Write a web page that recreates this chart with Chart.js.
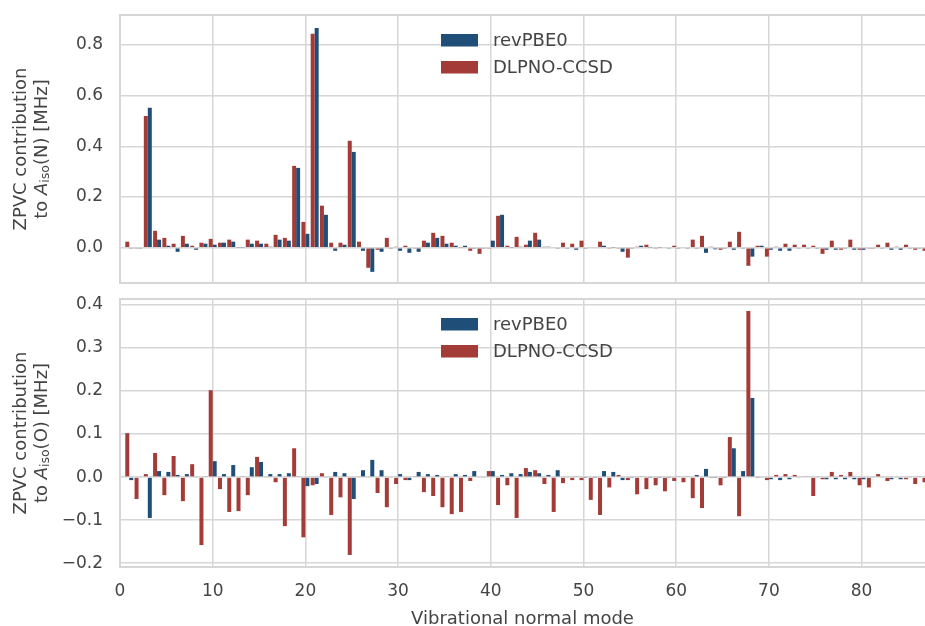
<!DOCTYPE html>
<html>
<head>
<meta charset="utf-8">
<script src="https://cdn.jsdelivr.net/npm/chart.js@4.4.1/dist/chart.umd.min.js"></script>
<style>
  body { margin: 0; background: #fff; }
  canvas { display: block; }
</style>
</head>
<body>
<canvas id="topChart" width="925" height="290"></canvas>
<canvas id="bottomChart" width="925" height="336"></canvas>
<script>
// normal modes 1..87
const modes = [1,2,3,4,5,6,7,8,9,10,11,12,13,14,15,16,17,18,19,20,21,22,23,24,25,26,27,28,29,30,
  31,32,33,34,35,36,37,38,39,40,41,42,43,44,45,46,47,48,49,50,51,52,53,54,55,56,57,58,59,60,
  61,62,63,64,65,66,67,68,69,70,71,72,73,74,75,76,77,78,79,80,81,82,83,84,85,86,87];

// A_iso(N) contributions [MHz]
const revPBE0_N = [-0.002,-0.002,0.552,0.032,0.008,-0.016,0.016,-0.008,0.016,0.012,
  0.020,0.024,0.002,0.016,0.016,0.004,0.032,0.028,0.315,0.055,
  0.867,0.130,-0.012,0.012,0.378,-0.012,-0.095,-0.016,-0.004,-0.012,
  -0.020,-0.016,0.020,0.039,0.016,0.008,0.008,-0.004,-0.004,0.028,
  0.130,0.002,0.004,0.028,0.032,0.004,-0.002,-0.002,-0.008,-0.002,
  0.003,0.008,0.002,-0.016,-0.002,0.008,0.002,0.002,-0.002,-0.002,
  -0.002,-0.002,-0.020,-0.006,-0.004,-0.008,-0.002,-0.035,0.008,-0.008,
  -0.012,-0.012,-0.002,-0.002,-0.002,-0.008,-0.008,-0.002,-0.008,-0.008,
  -0.002,-0.002,-0.008,-0.008,-0.002,-0.002,-0.002];
const dlpno_N = [0.024,-0.002,0.520,0.067,0.039,0.016,0.047,0.008,0.020,0.035,
  0.020,0.032,0.002,0.032,0.028,0.016,0.051,0.039,0.323,0.102,
  0.844,0.166,0.020,0.020,0.422,0.024,-0.079,-0.008,0.039,0.004,
  0.008,-0.002,0.028,0.059,0.047,0.020,0.002,-0.012,-0.024,-0.004,
  0.126,0.008,0.043,0.012,0.059,0.004,0.003,0.020,0.016,0.028,
  0.003,0.024,-0.002,-0.004,-0.039,0.004,0.012,-0.002,0.003,0.008,
  0.003,0.032,0.047,0.004,-0.008,0.024,0.063,-0.071,0.008,-0.035,
  0.004,0.016,0.012,0.012,0.008,-0.024,0.028,-0.008,0.032,-0.008,
  -0.002,0.012,0.020,0.004,0.012,-0.008,-0.012];

// A_iso(O) contributions [MHz]
const revPBE0_O = [-0.007,-0.002,-0.095,0.014,0.012,0.005,0.007,-0.002,0.002,0.037,
  0.007,0.028,0.002,0.023,0.035,0.007,0.007,0.009,0.002,-0.021,
  -0.016,-0.002,0.012,0.009,-0.051,0.016,0.040,0.016,-0.002,0.007,
  -0.007,0.012,0.007,0.005,0.002,0.007,0.005,0.014,-0.002,0.014,
  0.005,0.009,0.007,0.012,0.009,0.005,0.016,-0.002,0.002,-0.001,
  -0.001,0.014,0.012,-0.007,-0.001,0.002,-0.001,-0.001,-0.001,0.002,
  0.002,0.005,0.019,-0.001,-0.001,0.067,0.014,0.184,-0.002,-0.005,
  -0.007,-0.005,-0.002,0.002,-0.002,-0.005,-0.005,-0.005,-0.005,-0.005,
  -0.002,-0.002,-0.005,-0.005,-0.002,0.002,-0.003];
const dlpno_O = [0.102,-0.051,0.007,0.056,-0.042,0.049,-0.056,0.030,-0.158,0.202,
  -0.028,-0.081,-0.079,-0.042,0.047,-0.002,-0.012,-0.114,0.067,-0.140,
  -0.019,0.009,-0.088,-0.047,-0.181,-0.002,-0.002,-0.037,-0.070,-0.016,
  -0.007,0.002,-0.035,-0.044,-0.070,-0.086,-0.081,-0.009,-0.002,0.014,
  -0.065,-0.019,-0.095,0.021,0.016,-0.016,-0.081,-0.014,-0.007,-0.007,
  -0.053,-0.088,-0.024,0.005,-0.007,-0.040,-0.028,-0.019,-0.033,-0.009,
  -0.012,-0.049,-0.072,-0.001,-0.019,0.093,-0.091,0.386,-0.001,-0.007,
  0.005,0.007,0.005,0.002,-0.044,-0.005,0.012,0.005,0.012,-0.019,
  -0.024,0.007,-0.009,-0.002,-0.005,-0.016,-0.012];

const xTicks = [0,10,20,30,40,50,60,70,80];

const BLUE = '#1f4e79';
const RED = '#a33b37';
const GRID = '#d6d6d6';
const TEXT = '#444444';
const FONT = "'DejaVu Sans', sans-serif";

// frame round the plot area (right side is cut off in the figure)
const framePlugin = {
  id: 'frame',
  beforeDatasetsDraw(chart) {
    const a = chart.chartArea, ctx = chart.ctx;
    ctx.save();
    ctx.strokeStyle = GRID;
    ctx.lineWidth = 2;
    ctx.beginPath();
    ctx.moveTo(chart.width + 5, a.top);
    ctx.lineTo(a.left, a.top);
    ctx.lineTo(a.left, a.bottom);
    ctx.lineTo(chart.width + 5, a.bottom);
    ctx.stroke();
    ctx.restore();
  }
};

// legend inside the axes, revPBE0 listed first
const innerLegend = {
  id: 'innerLegend',
  afterDraw(chart) {
    const a = chart.chartArea, ctx = chart.ctx;
    const sets = chart.data.datasets.slice().reverse();
    ctx.save();
    ctx.font = '18px ' + FONT;
    ctx.textBaseline = 'middle';
    ctx.fillStyle = TEXT;
    sets.forEach((ds, i) => {
      const y = a.top + 19 + i * 27;
      ctx.fillStyle = ds.backgroundColor;
      ctx.fillRect(441, y, 37, 12.5);
      ctx.fillStyle = TEXT;
      ctx.fillText(ds.label, 493, y + 7);
    });
    ctx.restore();
  }
};

// two-line y title with italic A and subscript "iso"
function yTitle(atom) {
  return {
    id: 'yTitle',
    afterDraw(chart) {
      const a = chart.chartArea, ctx = chart.ctx;
      const cy = (a.top + a.bottom) / 2;
      const lines = [
        [{t: 'ZPVC contribution', f: '18px ' + FONT, dy: 0}],
        [{t: 'to ', f: '18px ' + FONT, dy: 0},
         {t: 'A', f: 'italic 18px ' + FONT, dy: 0},
         {t: 'iso', f: '12.5px ' + FONT, dy: 4},
         {t: '(' + atom + ') [MHz]', f: '18px ' + FONT, dy: 0}]
      ];
      const xs = [21, 42];
      ctx.save();
      ctx.fillStyle = TEXT;
      ctx.textBaseline = 'middle';
      ctx.textAlign = 'left';
      lines.forEach((segs, li) => {
        let total = 0;
        segs.forEach(s => { ctx.font = s.f; s.w = ctx.measureText(s.t).width; total += s.w; });
        ctx.save();
        ctx.translate(xs[li], cy);
        ctx.rotate(-Math.PI / 2);
        let x = -total / 2;
        segs.forEach(s => { ctx.font = s.f; ctx.fillText(s.t, x, s.dy); x += s.w; });
        ctx.restore();
      });
      ctx.restore();
    }
  };
}

function fmt(v) {
  return v.toFixed(1).replace('-', '\u2212');
}

function makeChart(id, blueVals, redVals, yMin, yMax, yStep, topPad, bottomPanel, atom) {
  const pts = vals => modes.map((m, i) => ({x: m, y: vals[i]}));
  return new Chart(document.getElementById(id), {
    type: 'bar',
    data: {
      datasets: [
        {label: 'DLPNO-CCSD', data: pts(redVals), backgroundColor: RED},
        {label: 'revPBE0', data: pts(blueVals), backgroundColor: BLUE}
      ]
    },
    options: {
      responsive: false,
      animation: false,
      layout: {padding: {top: topPad, left: 0, right: 0, bottom: 0}},
      datasets: {bar: {categoryPercentage: 0.86, barPercentage: 1.0, borderWidth: 0}},
      scales: {
        x: {
          type: 'linear',
          min: 0,
          max: 86.84,
          offset: false,
          grid: {color: GRID, lineWidth: 1.5, drawTicks: false, offset: false},
          border: {display: false},
          afterBuildTicks: s => { s.ticks = xTicks.map(v => ({value: v})); },
          ticks: {
            display: bottomPanel,
            color: TEXT,
            padding: 14,
            font: {family: FONT, size: 17},
            maxRotation: 0,
            autoSkip: false
          },
          title: {
            display: bottomPanel,
            text: 'Vibrational normal mode',
            color: TEXT,
            font: {family: FONT, size: 18, lineHeight: 0.7},
            padding: {top: 0, bottom: 0}
          },
          afterFit: s => {
            s.height = bottomPanel ? 59 : 7;
            s.paddingLeft = 0; s.paddingRight = 0;
          }
        },
        y: {
          min: yMin,
          max: yMax,
          grid: {color: GRID, lineWidth: 1.5, drawTicks: false},
          border: {display: false},
          ticks: {
            stepSize: yStep,
            includeBounds: false,
            color: TEXT,
            padding: 17,
            font: {family: FONT, size: 17},
            callback: v => fmt(v)
          },
          afterFit: s => {
            s.width = 120;
            s.paddingTop = 0; s.paddingBottom = 0;
          }
        }
      },
      plugins: {
        legend: {display: false},
        tooltip: {enabled: false}
      }
    },
    plugins: [framePlugin, innerLegend, yTitle(atom)]
  });
}

makeChart('topChart', revPBE0_N, dlpno_N, -0.139, 0.918, 0.2, 15, false, 'N');
makeChart('bottomChart', revPBE0_O, dlpno_O, -0.209, 0.414, 0.1, 9, true, 'O');
</script>
</body>
</html>
